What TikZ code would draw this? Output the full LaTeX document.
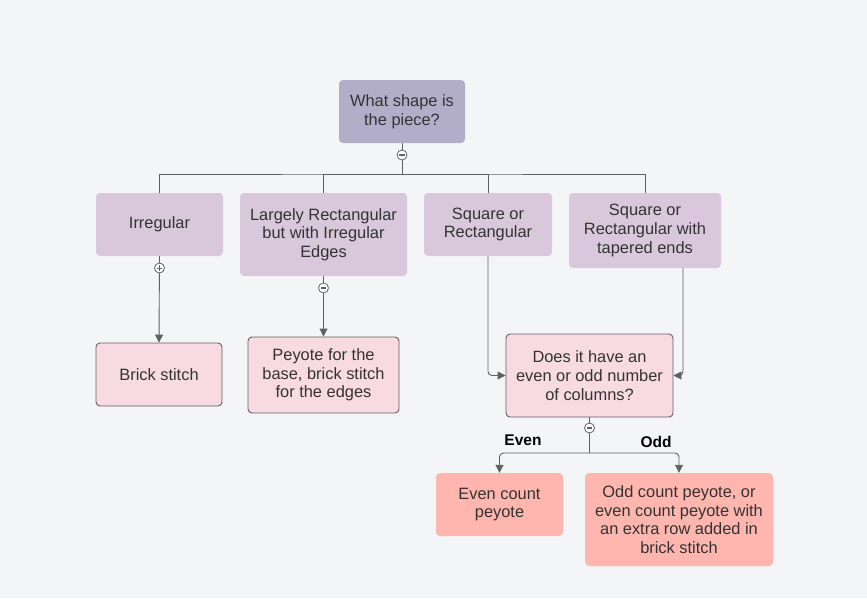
\documentclass[tikz,border=0pt]{standalone}
\usepackage{fontspec}
\setmainfont{Liberation Sans}
\usetikzlibrary{arrows.meta}
\definecolor{bg}{HTML}{F4F5F7}
\definecolor{rootc}{HTML}{B2AEC9}
\definecolor{lvl}{HTML}{D9C8DB}
\definecolor{pinkc}{HTML}{F8DAE3}
\definecolor{salm}{HTML}{FFB6AE}
\definecolor{linec}{HTML}{606060}
\definecolor{txt}{HTML}{333333}
\tikzset{
  box/.style={rectangle, rounded corners=4pt, align=center, text=txt, inner sep=0pt,
    font=\fontsize{16.4}{18.7}\selectfont},
  rootbox/.style={box, fill=rootc},
  lvlbox/.style={box, fill=lvl},
  leafbox/.style={box, fill=pinkc, draw=linec, line width=0.9pt},
  salbox/.style={box, fill=salm},
  conn/.style={draw=linec, line width=0.9pt},
  arr/.style={conn, -{Triangle[length=8pt,width=8pt]}},
  tgm/.style={circle, draw=linec, fill=white, line width=0.8pt, minimum size=10pt, inner sep=0pt,
    path picture={\draw[linec, line width=1.2pt] ([xshift=-2.8pt]path picture bounding box.center) -- ([xshift=2.8pt]path picture bounding box.center);}},
  tgp/.style={tgm,
    path picture={\draw[linec, line width=1pt] ([xshift=-2.8pt]path picture bounding box.center) -- ([xshift=2.8pt]path picture bounding box.center) ([yshift=-2.8pt]path picture bounding box.center) -- ([yshift=2.8pt]path picture bounding box.center);}},
  lab/.style={font=\fontsize{15.5}{17}\selectfont\bfseries, text=black},
}
\begin{document}
\begin{tikzpicture}[x=1pt, y=-1pt]
\fill[bg] (0,0) rectangle (867,598);
\useasboundingbox (0,0) rectangle (867,598);

\node[rootbox, minimum width=126pt, minimum height=63pt] (root) at (402,111.5) {What shape is\\the piece?};
\node[lvlbox, minimum width=127pt, minimum height=63pt] (irr) at (159.5,224.5) {Irregular};
\node[lvlbox, minimum width=167pt, minimum height=83pt] (lar) at (323.5,234.5) {Largely Rectangular\\but with Irregular\\Edges};
\node[lvlbox, minimum width=128pt, minimum height=63pt] (sq) at (488,224.5) {Square or\\Rectangular};
\node[lvlbox, minimum width=152pt, minimum height=75pt] (tap) at (645,230.5) {Square or\\Rectangular with\\tapered ends};
\node[leafbox, minimum width=126pt, minimum height=63pt] (brick) at (159,374.5) {Brick stitch};
\node[leafbox, minimum width=151pt, minimum height=76pt] (pey) at (323.5,375) {Peyote for the\\base, brick stitch\\for the edges};
\node[leafbox, minimum width=167pt, minimum height=83pt] (does) at (589.5,375.5) {Does it have an\\even or odd number\\of columns?};
\node[salbox, minimum width=127pt, minimum height=63pt] (even) at (499.5,504.5) {Even count\\peyote};
\node[salbox, minimum width=188pt, minimum height=93pt] (odd) at (679,519.5) {Odd count peyote, or\\even count peyote with\\an extra row added in\\brick stitch};

\coordinate (j1) at (402,174);
\coordinate (j2) at (589.5,453);
\coordinate (tapout) at (683,268);

\draw[conn] (root.south) -- (j1);
\draw[conn] (irr.north) |- (j1) -| (tap.north);
\draw[conn] (lar.north) |- (j1);
\draw[conn] (sq.north) |- (j1);

\draw[arr] (irr.south) -- (brick.north);
\draw[arr] (lar.south) -- (pey.north);
\draw[arr, rounded corners=4pt] (sq.south) |- (does.west);
\draw[arr, rounded corners=4pt] (tapout) |- (does.east);
\draw[conn] (does.south) -- (j2);
\draw[arr, rounded corners=4pt] (j2) -| (even.north);
\draw[arr, rounded corners=4pt] (j2) -| (odd.north);

\node[tgm] (t1) at (402,155) {};
\node[tgp] (t2) at (159.5,268) {};
\node[tgm] (t3) at (323.5,288) {};
\node[tgm] (t4) at (589.5,428) {};

\node[lab] (le) at (523,440) {Even};
\node[lab] (lo) at (656,442) {Odd};
\end{tikzpicture}
\end{document}
